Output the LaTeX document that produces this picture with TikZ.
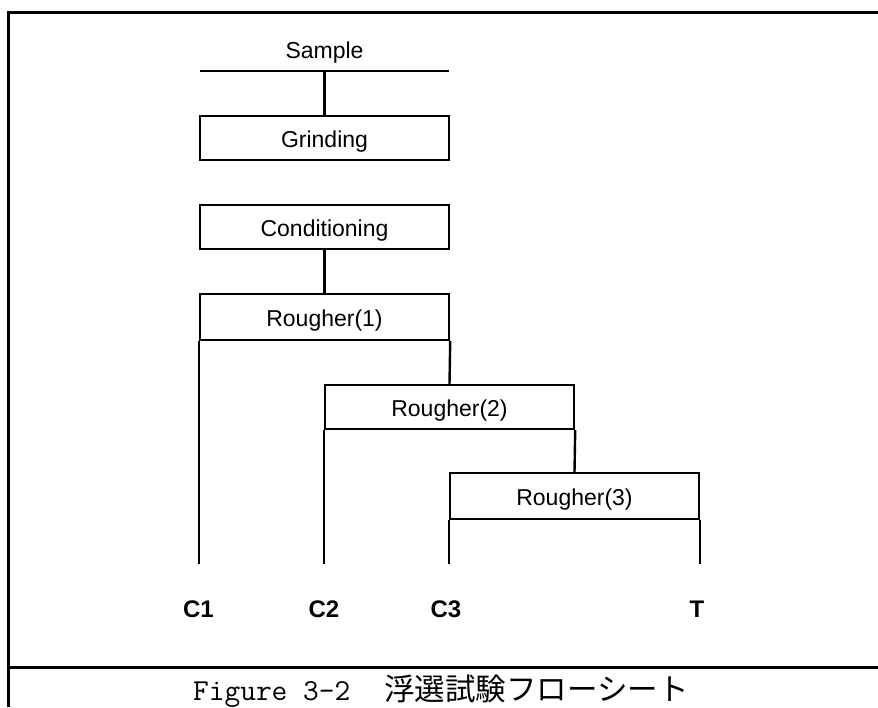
\documentclass[tikz,border=0pt]{standalone}
\usepackage{fontspec}
\setmainfont{Liberation Sans}
\newfontfamily\cjkfont{Noto Sans CJK JP}
\begin{document}
\begin{tikzpicture}[x=1pt,y=-1pt,
  box/.style={draw, line width=2.4pt, minimum width=249pt, minimum height=44pt,
    inner sep=0pt, text height=19pt, text depth=0pt,
    font=\fontsize{23}{27}\selectfont},
  link/.style={line width=2.4pt},
  frame/.style={line width=3pt},
  lab/.style={font=\fontsize{24}{28}\selectfont\bfseries, anchor=base, inner sep=0pt},
  plain/.style={font=\fontsize{23}{27}\selectfont, anchor=base, inner sep=0pt}]
\useasboundingbox (0,0) rectangle (878,707);

% frame
\coordinate (ftl) at (8,12);
\coordinate (ftr) at (878,12);
\coordinate (fbl) at (8,707);
\coordinate (sepl) at (8,667);
\coordinate (sepr) at (878,667);
\draw[frame] (ftr) -- (ftl) -- (fbl);
\draw[frame] (sepl) -- (sepr);

% sample
\node[plain] (sample) at (324.5,58) {Sample};
\coordinate (sl) at (200,70.7);
\coordinate (sr) at (449,70.7);
\draw[link] (sl) -- (sr);

% boxes
\node[box] (grind) at (324.5,138) {Grinding};
\node[box] (cond) at (324.5,227) {Conditioning};
\node[box, minimum height=46pt] (r1) at (324.5,317) {Rougher(1)};
\node[box] (r2) at (449.5,407) {Rougher(2)};
\node[box, minimum height=46pt] (r3) at (574.5,496) {Rougher(3)};

% connectors
\draw[link] (grind.north |- sl) -- (grind.north);
\draw[link] (cond.south) -- (r1.north);
\draw[link] (r1.south east) -- (r2.north);
\draw[link] (r2.south east) -- (r3.north);

\coordinate (base) at (0,564);
\coordinate (e1) at (r1.south west |- base);
\coordinate (e2) at (r2.south west |- base);
\coordinate (e3) at (r3.south west |- base);
\coordinate (e4) at (r3.south east |- base);
\draw[link] (r1.south west) -- (e1);
\draw[link] (r2.south west) -- (e2);
\draw[link] (r3.south west) -- (e3);
\draw[link] (r3.south east) -- (e4);

% product labels
\node[lab] (c1) at (198.5,617) {C1};
\node[lab] (c2) at (324,617) {C2};
\node[lab] (c3) at (446,617) {C3};
\node[lab] (t) at (697,617) {T};

% caption
\node[anchor=base west, inner sep=0pt] (cap) at (193,700)
  {\fontsize{30.5}{32}\selectfont\ttfamily Figure 3-2\hspace{34pt}{\cjkfont\fontsize{30.5}{32}\selectfont 浮選試験フローシート}};
\end{tikzpicture}
\end{document}
